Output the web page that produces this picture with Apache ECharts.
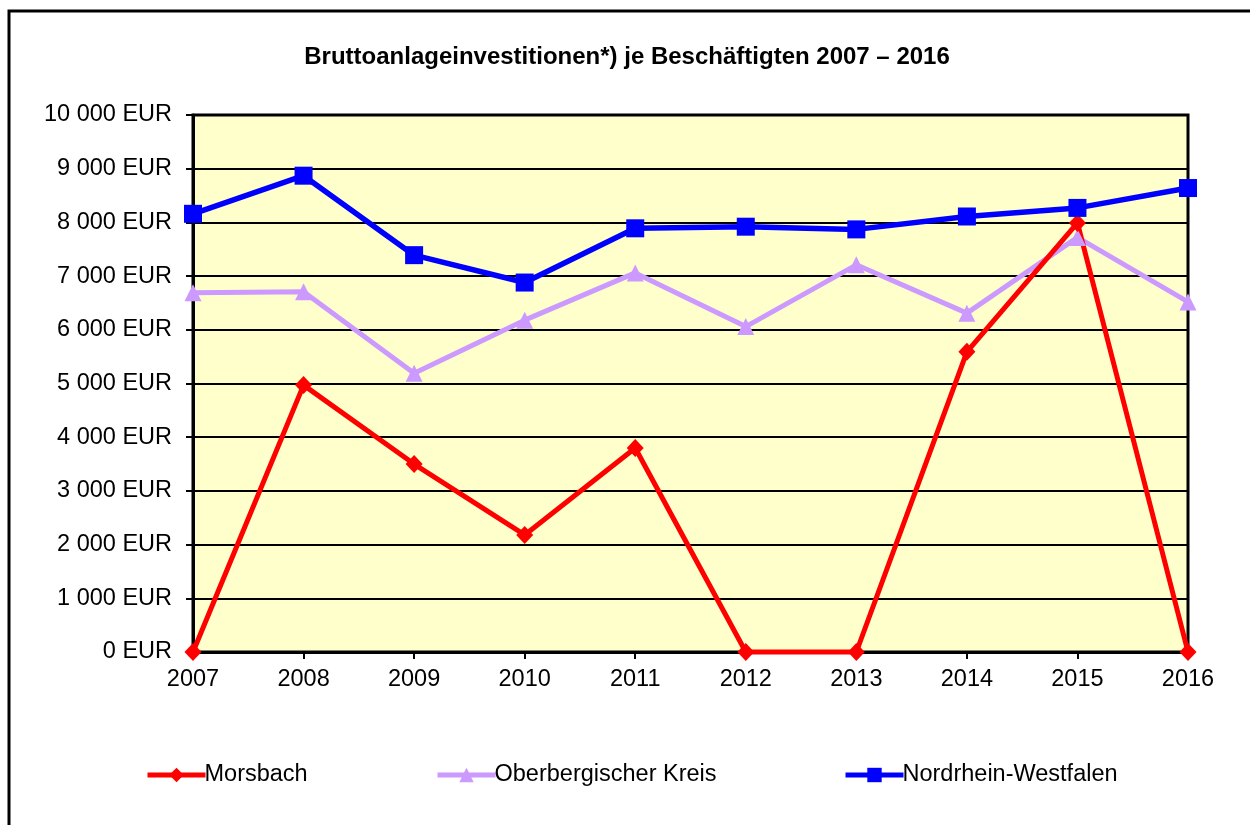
<!DOCTYPE html>
<html>
<head>
<meta charset="utf-8">
<script src="https://cdn.jsdelivr.net/npm/echarts@6/dist/echarts.min.js"></script>
<style>
html, body { margin: 0; padding: 0; background: #fff; }
#chart { width: 1250px; height: 825px; }
</style>
</head>
<body>
<div id="chart"></div>
<script>
var years = ['2007', '2008', '2009', '2010', '2011', '2012', '2013', '2014', '2015', '2016'];
var morsbach = [0, 4970, 3500, 2180, 3800, 0, 0, 5590, 7990, 0];
var oberberg = [6690, 6710, 5190, 6180, 7060, 6060, 7210, 6310, 7720, 6520];
var nrw = [8160, 8870, 7390, 6880, 7890, 7920, 7870, 8110, 8270, 8640];

var font = 'Arial, "Liberation Sans", sans-serif';

function eur(v) {
	return String(v).replace(/\B(?=(\d{3})+(?!\d))/g, ' ') + ' EUR';
}

function legendAt(left, name) {
	return {
		left: left,
		top: 758,
		itemWidth: 58,
		itemHeight: 18,
		itemGap: 5,
		data: [name],
		lineStyle: { width: 5 },
		textStyle: { fontFamily: font, fontSize: 23.5, color: '#000', padding: [0, 0, 0, -6] }
	};
}

var myChart = echarts.init(document.getElementById('chart'));
var option = {
	animation: false,
	backgroundColor: '#fff',
	title: {
		text: 'Bruttoanlageinvestitionen*) je Beschäftigten 2007 – 2016',
		left: 622,
		textAlign: 'center',
		top: 40,
		textStyle: { fontFamily: font, fontSize: 24, fontWeight: 'bold', color: '#000' }
	},
	graphic: [{
		type: 'rect',
		shape: { x: 9, y: 11, width: 1400, height: 1000 },
		style: { fill: null, stroke: '#000', lineWidth: 3 },
		silent: true
	}],
	legend: [
		legendAt(140, 'Morsbach'),
		legendAt(430, 'Oberbergischer Kreis'),
		legendAt(838, 'Nordrhein-Westfalen')
	],
	grid: {
		left: 193,
		right: 62,
		top: 115,
		bottom: 173,
		show: true,
		backgroundColor: '#FFFFCC',
		borderColor: '#000',
		borderWidth: 3
	},
	xAxis: {
		type: 'category',
		data: years,
		boundaryGap: false,
		axisLine: { lineStyle: { color: '#000', width: 3 } },
		axisTick: { show: true, length: 7, lineStyle: { color: '#000', width: 2 } },
		axisLabel: { fontFamily: font, fontSize: 23.5, color: '#000', margin: 16 },
		splitLine: { show: false }
	},
	yAxis: {
		type: 'value',
		min: 0,
		max: 10000,
		interval: 1000,
		axisLine: { show: true, lineStyle: { color: '#000', width: 3 } },
		axisTick: { show: true, length: 7, lineStyle: { color: '#000', width: 2 } },
		axisLabel: { fontFamily: font, fontSize: 23.5, color: '#000', margin: 21, formatter: eur },
		splitLine: { show: true, lineStyle: { color: '#000', width: 2 } }
	},
	series: [{
		name: 'Oberbergischer Kreis',
		type: 'line',
		data: oberberg,
		clip: false,
		symbol: 'triangle',
		symbolSize: 17,
		lineStyle: { color: '#CC99FF', width: 5 },
		itemStyle: { color: '#CC99FF' }
	}, {
		name: 'Morsbach',
		type: 'line',
		data: morsbach,
		clip: false,
		symbol: 'diamond',
		symbolSize: [17, 18],
		lineStyle: { color: '#FF0000', width: 5 },
		itemStyle: { color: '#FF0000' }
	}, {
		name: 'Nordrhein-Westfalen',
		type: 'line',
		data: nrw,
		clip: false,
		symbol: 'rect',
		symbolSize: 18,
		lineStyle: { color: '#0000FF', width: 5.5 },
		itemStyle: { color: '#0000FF' }
	}]
};
myChart.setOption(option);
</script>
</body>
</html>
